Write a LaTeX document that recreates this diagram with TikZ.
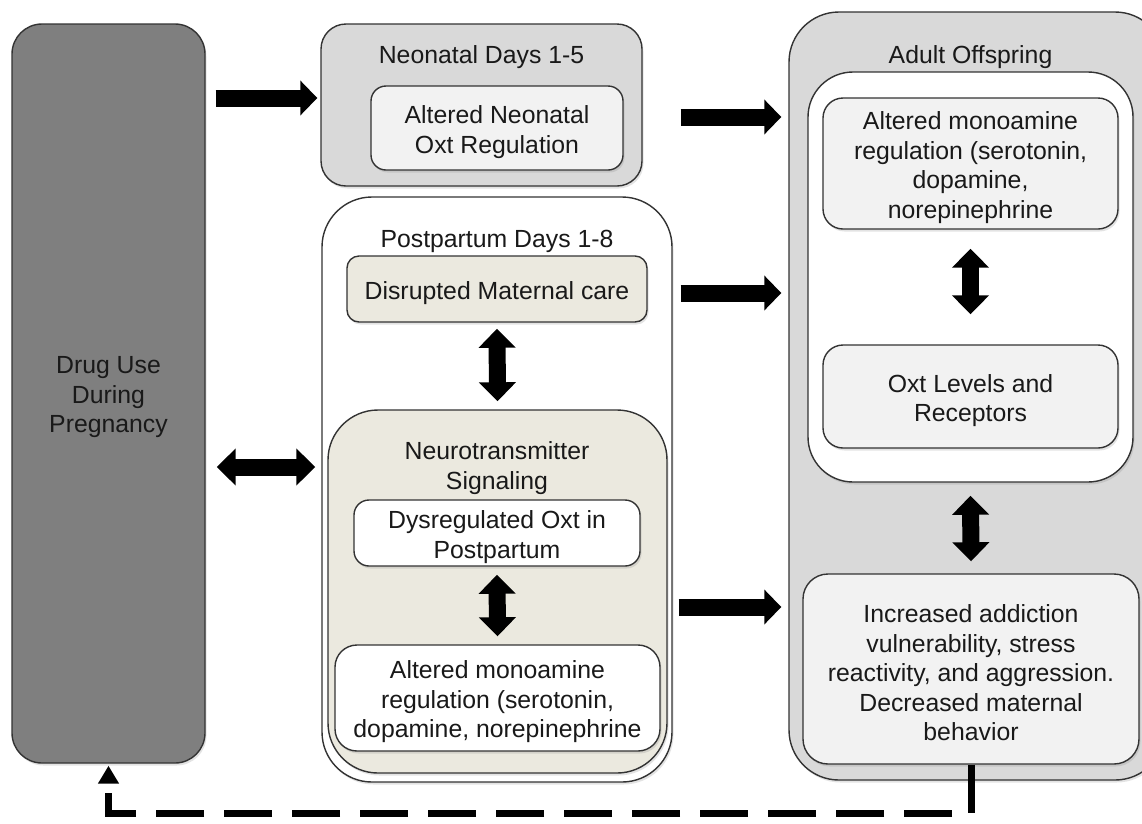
\documentclass[tikz,border=0pt]{standalone}
\usepackage{fontspec}
\setmainfont{Liberation Sans}
\usetikzlibrary{arrows.meta,shadows,calc}
\definecolor{druggray}{HTML}{7F7F7F}
\definecolor{midgray}{HTML}{D9D9D9}
\definecolor{lightgray2}{HTML}{F2F2F2}
\definecolor{beige}{HTML}{EBE9DF}
\definecolor{edge}{HTML}{333333}
\begin{document}
\begin{tikzpicture}[x=1pt,y=-1pt,
  rbox/.style={draw=edge, line width=1.4pt, inner sep=0pt,
    drop shadow={opacity=0.22, shadow xshift=1.5pt, shadow yshift=-2.5pt}},
  txt/.style={inner sep=0pt, align=center, yshift=-4pt,
    font=\fontsize{24.8}{29.5}\selectfont, text=black!90},
  title/.style={inner sep=0pt, align=center, font=\fontsize{24.8}{29.5}\selectfont, text=black!90},
  fat/.style={line width=17pt, -{Triangle[length=17pt,width=34pt]}},
  fatboth/.style={line width=17pt, {Triangle[length=19pt,width=36pt]}-{Triangle[length=19pt,width=36pt]}},
  feedback/.style={line width=7pt, dash pattern=on 48pt off 20pt, -{Triangle[length=18pt,width=20pt]}}
]
\useasboundingbox (0,0) rectangle (1142,823);
\clip (0,0) rectangle (1142,823);
\fill[white] (0,0) rectangle (1142,823);

% left column
\node[rbox, fill=druggray, rounded corners=30pt, minimum width=193pt, minimum height=739pt,
  label={[txt]center:Drug Use\\During\\Pregnancy}] (drug) at (108.5,393.5) {};

% neonatal
\node[rbox, fill=midgray, rounded corners=25pt, minimum width=321pt, minimum height=162pt] (neo) at (481.5,105) {};
\node[title] (neotitle) at (481.5,57) {Neonatal Days 1-5};
\node[rbox, fill=lightgray2, rounded corners=15pt, minimum width=252pt, minimum height=84pt,
  label={[txt]center:Altered Neonatal\\Oxt Regulation}] (neoin) at (497,128) {};

% postpartum
\node[rbox, fill=white, rounded corners=50pt, minimum width=350pt, minimum height=585pt] (post) at (497,489.5) {};
\node[title] (posttitle) at (497,241) {Postpartum Days 1-8};
\node[rbox, fill=beige, rounded corners=12pt, minimum width=300pt, minimum height=66pt,
  label={[txt]center:Disrupted Maternal care}] (disr) at (497,289) {};
\node[rbox, fill=beige, rounded corners=50pt, minimum width=339pt, minimum height=363pt] (neuro) at (497.5,591.5) {};
\node[title] (neurotitle) at (497,468) {Neurotransmitter\\Signaling};
\node[rbox, fill=white, rounded corners=15pt, minimum width=286pt, minimum height=66pt,
  label={[txt]center:Dysregulated Oxt in\\Postpartum}] (dysreg) at (497,533) {};
\node[rbox, fill=white, rounded corners=22pt, minimum width=325pt, minimum height=106pt,
  label={[txt]center:Altered monoamine\\regulation (serotonin,\\dopamine, norepinephrine}] (monoL) at (497.5,698) {};

% adult offspring
\node[rbox, fill=midgray, rounded corners=50pt, minimum width=376pt, minimum height=768pt] (adult) at (977,396) {};
\node[title] (adulttitle) at (970.5,57) {Adult Offspring};
\node[rbox, fill=white, rounded corners=45pt, minimum width=325pt, minimum height=410pt] (adultin) at (970.5,277) {};
\node[rbox, fill=lightgray2, rounded corners=20pt, minimum width=295pt, minimum height=131pt,
  label={[txt]center:Altered monoamine\\regulation (serotonin,\\dopamine,\\norepinephrine}] (monoR) at (970.5,163.5) {};
\node[rbox, fill=lightgray2, rounded corners=20pt, minimum width=295pt, minimum height=103pt,
  label={[txt]center:Oxt Levels and\\Receptors}] (oxt) at (970.5,396.5) {};
\node[rbox, fill=lightgray2, rounded corners=25pt, minimum width=336pt, minimum height=190pt,
  label={[txt]center:Increased addiction\\vulnerability, stress\\reactivity, and aggression.\\Decreased maternal\\behavior}] (inc) at (971,669) {};

% arrows
\draw[fat] ([xshift=10pt]drug.east |- 0,98) -- ([xshift=-3pt]neo.west |- 0,98);
\draw[fatboth] ([xshift=11pt]drug.east |- 0,467) -- ([xshift=-6pt]post.west |- 0,467);
\draw[fat] ([xshift=38pt]neo.east |- 0,117) -- ([xshift=-7pt]adult.west |- 0,117);
\draw[fat] ([xshift=8pt]post.east |- 0,293) -- ([xshift=-7pt]adult.west |- 0,293);
\draw[fat] ([xshift=6pt]post.east |- 0,607) -- ([xshift=-7pt]adult.west |- 0,607);
\draw[fatboth] ([yshift=-6pt]disr.south) -- ([yshift=8pt]neuro.north);
\draw[fatboth] ([yshift=-8pt]dysreg.south) -- ([yshift=8pt]monoL.north);
\draw[fatboth] ([yshift=-19pt]monoR.south) -- ([yshift=30pt]oxt.north);
\draw[fatboth] ([yshift=-13pt]adultin.south) -- ([yshift=12pt]inc.north);

% feedback
\draw[feedback] (inc.south) -- ++(0,49) -| ([yshift=-2pt]drug.south);
\end{tikzpicture}
\end{document}
